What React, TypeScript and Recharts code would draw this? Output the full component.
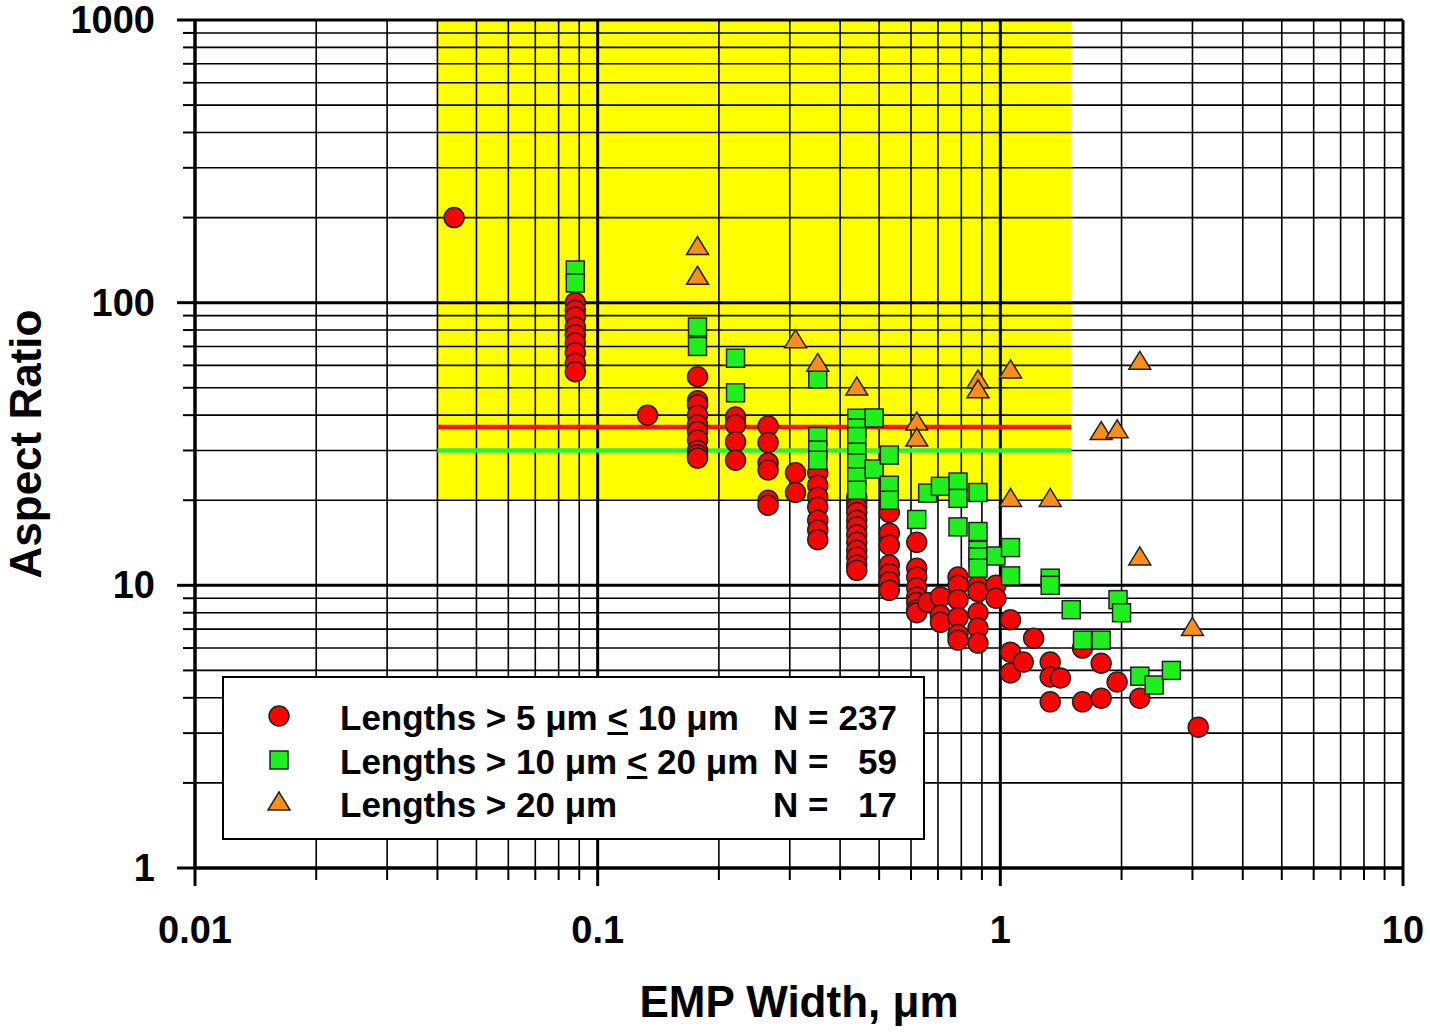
import { ScatterChart, Scatter, XAxis, YAxis, ReferenceArea, ReferenceLine } from 'recharts'

// EMP width (µm) vs aspect ratio
const red: [number, number][] = [
  [0.044, 200],
  [0.088, 100], [0.088, 94], [0.088, 89], [0.088, 82], [0.088, 77], [0.088, 72], [0.088, 66.5], [0.088, 61], [0.088, 57],
  [0.133, 40],
  [0.177, 54.7], [0.177, 45], [0.177, 43.5], [0.177, 40], [0.177, 37], [0.177, 35], [0.177, 32.7], [0.177, 30], [0.177, 29], [0.177, 28.2],
  [0.22, 39.4], [0.22, 37], [0.22, 32.2], [0.22, 27.7],
  [0.265, 36.6], [0.265, 32], [0.265, 27.1], [0.265, 25.6], [0.265, 20], [0.265, 19.2],
  [0.31, 25], [0.31, 21.3],
  [0.352, 25], [0.352, 22.6], [0.352, 20.5], [0.352, 18.9], [0.352, 17], [0.352, 15.7], [0.352, 14.5],
  [0.44, 20.5], [0.44, 19.7], [0.44, 18.9], [0.44, 18.1], [0.44, 17], [0.44, 16.1], [0.44, 15.1], [0.44, 14.2], [0.44, 13.3], [0.44, 12.6], [0.44, 11.8], [0.44, 11.3],
  [0.53, 18.1], [0.53, 15.3], [0.53, 13.9], [0.53, 11.8], [0.53, 11], [0.53, 10.3], [0.53, 9.6],
  [0.62, 14.2], [0.62, 11.5], [0.62, 10.7], [0.62, 9.8], [0.62, 9.1], [0.62, 8.7], [0.62, 8.2], [0.62, 8],
  [0.66, 8.7],
  [0.71, 9.1], [0.71, 7.85], [0.71, 7.4],
  [0.785, 10.7], [0.785, 10], [0.785, 8.9], [0.785, 7.7], [0.785, 6.7], [0.785, 6.4],
  [0.88, 10], [0.88, 9.5], [0.88, 8], [0.88, 7.06], [0.88, 6.25],
  [0.975, 10], [0.975, 9],
  [1.06, 7.55], [1.06, 5.8], [1.06, 4.9],
  [1.14, 5.35],
  [1.21, 6.5],
  [1.33, 5.35], [1.33, 4.74], [1.33, 3.87],
  [1.41, 4.7],
  [1.6, 6], [1.6, 3.87],
  [1.78, 5.3], [1.78, 3.99],
  [1.95, 4.55],
  [2.22, 3.99],
  [3.1, 3.15],
]

const green: [number, number][] = [
  [0.088, 130.5], [0.088, 117.4],
  [0.177, 82], [0.177, 70],
  [0.22, 63.6], [0.22, 48],
  [0.352, 53.8], [0.352, 33.6], [0.352, 30.1], [0.352, 27.7],
  [0.44, 39], [0.44, 36], [0.44, 33.6], [0.44, 29.6], [0.44, 27.1], [0.44, 24.2], [0.44, 21.7],
  [0.486, 39.1], [0.486, 25.8],
  [0.53, 28.9], [0.53, 22.6], [0.53, 20],
  [0.62, 17.1],
  [0.66, 21.2],
  [0.71, 22.4],
  [0.785, 23.2], [0.785, 20.3], [0.785, 16.1],
  [0.88, 21.3], [0.88, 15.5], [0.88, 13.3], [0.88, 12.6], [0.88, 11.5],
  [0.975, 12.7],
  [1.06, 13.6], [1.06, 10.8],
  [1.33, 10.6], [1.33, 10],
  [1.5, 8.2],
  [1.6, 6.4],
  [1.78, 6.4],
  [1.96, 8.9],
  [2.0, 8],
  [2.22, 4.77],
  [2.41, 4.44],
  [2.66, 5],
]

const orange: [number, number][] = [
  [0.177, 158], [0.177, 124],
  [0.31, 74],
  [0.352, 61],
  [0.44, 50.3],
  [0.62, 37.8], [0.62, 33.2],
  [0.88, 53.3], [0.88, 49.2],
  [1.06, 57.8], [1.06, 20.3],
  [1.33, 20.3],
  [1.78, 35],
  [1.95, 35.5],
  [2.22, 62], [2.22, 12.6],
  [3.0, 7.1],
]

const xTicks = [
  0.01, 0.02, 0.03, 0.04, 0.05, 0.06, 0.07, 0.08, 0.09,
  0.1, 0.2, 0.3, 0.4, 0.5, 0.6, 0.7, 0.8, 0.9,
  1, 2, 3, 4, 5, 6, 7, 8, 9, 10,
]
const xMajor = [0.01, 0.1, 1, 10]
const yTicks = [
  1, 2, 3, 4, 5, 6, 7, 8, 9,
  10, 20, 30, 40, 50, 60, 70, 80, 90,
  100, 200, 300, 400, 500, 600, 700, 800, 900, 1000,
]
const yMajor = [1, 10, 100, 1000]

// shaded window and the two reference levels
const boxX = [0.04, 1.5]
const boxY = [20, 1000]
const redLevel = 36.3
const greenLevel = 30

const FONT = '"Liberation Sans", Arial, sans-serif'

const toPts = (arr: [number, number][]) => arr.map(([x, y]) => ({ x, y }))

function Circle(p: any) {
  return <circle cx={p.cx} cy={p.cy} r={10} fill="#FF0000" stroke="#222" strokeWidth={1.5} />
}
function Square(p: any) {
  return <rect x={p.cx - 9} y={p.cy - 9} width={18} height={18} fill="#1EF01E" stroke="#222" strokeWidth={1.5} />
}
function Triangle(p: any) {
  const { cx, cy } = p
  return (
    <polygon
      points={`${cx},${cy - 10} ${cx - 11},${cy + 8} ${cx + 11},${cy + 8}`}
      fill="#F98E1D"
      stroke="#222"
      strokeWidth={1.5}
    />
  )
}

function XTick({ x, y, payload }: any) {
  const major = xMajor.includes(payload.value)
  return (
    <g>
      <line x1={x} y1={y} x2={x} y2={y + (major ? 18 : 12)} stroke="#000" strokeWidth={major ? 3 : 2} />
      {major && (
        <text x={x} y={y + 75} textAnchor="middle" fontFamily={FONT} fontWeight="bold" fontSize={38} fill="#000">
          {payload.value}
        </text>
      )}
    </g>
  )
}

function YTick({ x, y, payload }: any) {
  const major = yMajor.includes(payload.value)
  return (
    <g>
      <line x1={x - (major ? 18 : 12)} y1={y} x2={x} y2={y} stroke="#000" strokeWidth={major ? 3 : 2} />
      {major && (
        <text x={x - 40} y={y + 13} textAnchor="end" fontFamily={FONT} fontWeight="bold" fontSize={38} fill="#000">
          {payload.value}
        </text>
      )}
    </g>
  )
}

function XTitle({ viewBox }: any) {
  const { x, y, width, height } = viewBox
  return (
    <text x={x + width / 2} y={y + height - 16} textAnchor="middle" fontFamily={FONT} fontWeight="bold" fontSize={44} fill="#000">
      EMP Width, μm
    </text>
  )
}

function YTitle({ viewBox }: any) {
  const { x, y, height } = viewBox
  const cx = x + 41
  const cy = y + height / 2
  return (
    <text x={cx} y={cy} transform={`rotate(-90, ${cx}, ${cy})`} textAnchor="middle" fontFamily={FONT} fontWeight="bold" fontSize={44} fill="#000">
      Aspect Ratio
    </text>
  )
}

const legendRows = [
  { shape: 'circle', text: <>Lengths &gt; 5 μm <u>&lt;</u> 10 μm</>, n: '237' },
  { shape: 'square', text: <>Lengths &gt; 10 μm <u>&lt;</u> 20 μm</>, n: '59' },
  { shape: 'triangle', text: <>Lengths &gt; 20 μm</>, n: '17' },
]
const rowCenters = [40, 84, 127]

function LegendBox() {
  return (
    <div
      style={{
        position: 'absolute',
        left: 222,
        top: 676,
        width: 699,
        height: 160,
        border: '2px solid #000',
        background: '#fff',
        fontFamily: FONT,
        fontWeight: 'bold',
        fontSize: 35,
        color: '#000',
      }}
    >
      <svg width={100} height={160} style={{ position: 'absolute', left: 0, top: 0 }}>
        <Circle cx={55} cy={rowCenters[0] - 2} />
        <Square cx={55} cy={rowCenters[1] - 2} />
        <Triangle cx={55} cy={rowCenters[2] - 3} />
      </svg>
      {legendRows.map((r, i) => (
        <div key={i}>
          <div style={{ position: 'absolute', left: 116, top: rowCenters[i] - 20, height: 40, lineHeight: '40px', whiteSpace: 'nowrap' }}>
            {r.text}
          </div>
          <div style={{ position: 'absolute', left: 549, top: rowCenters[i] - 20, height: 40, lineHeight: '40px' }}>N =</div>
          <div style={{ position: 'absolute', right: 26, top: rowCenters[i] - 20, height: 40, lineHeight: '40px', textAlign: 'right' }}>
            {r.n}
          </div>
        </div>
      ))}
    </div>
  )
}

export default function App() {
  return (
    <div style={{ position: 'absolute', left: 0, top: 0, width: 1430, height: 1033, background: '#fff' }}>
      <ScatterChart width={1430} height={1033} margin={{ top: 20, right: 27, bottom: 0, left: 0 }}>
        <XAxis
          type="number"
          dataKey="x"
          scale="log"
          domain={[0.01, 10]}
          allowDataOverflow
          ticks={xTicks}
          interval={0}
          height={165}
          tickLine={false}
          tickSize={0}
          tickMargin={0}
          tick={<XTick />}
          axisLine={{ stroke: '#000', strokeWidth: 3 }}
          label={{ content: <XTitle /> }}
        />
        <YAxis
          type="number"
          dataKey="y"
          scale="log"
          domain={[1, 1000]}
          allowDataOverflow
          ticks={yTicks}
          interval={0}
          width={195}
          tickLine={false}
          tickSize={0}
          tickMargin={0}
          tick={<YTick />}
          axisLine={{ stroke: '#000', strokeWidth: 3 }}
          label={{ content: <YTitle /> }}
        />
        <ReferenceArea x1={boxX[0]} x2={boxX[1]} y1={boxY[0]} y2={boxY[1]} fill="#FFFF00" fillOpacity={1} stroke="none" />
        {xTicks.map((v) => (
          <ReferenceLine key={'gx' + v} x={v} stroke="#000" strokeWidth={xMajor.includes(v) ? 3 : 1.6} ifOverflow="visible" />
        ))}
        {yTicks.map((v) => (
          <ReferenceLine key={'gy' + v} y={v} stroke="#000" strokeWidth={yMajor.includes(v) ? 3 : 1.6} ifOverflow="visible" />
        ))}
        <ReferenceLine
          segment={[{ x: boxX[0], y: redLevel }, { x: boxX[1], y: redLevel }]}
          stroke="#FF1010"
          strokeWidth={4.5}
          ifOverflow="visible"
        />
        <ReferenceLine
          segment={[{ x: boxX[0], y: greenLevel }, { x: boxX[1], y: greenLevel }]}
          stroke="#3DEB3D"
          strokeWidth={4.5}
          ifOverflow="visible"
        />
        <Scatter data={toPts(red)} shape={<Circle />} isAnimationActive={false} />
        <Scatter data={toPts(green)} shape={<Square />} isAnimationActive={false} />
        <Scatter data={toPts(orange)} shape={<Triangle />} isAnimationActive={false} />
      </ScatterChart>
      <LegendBox />
    </div>
  )
}
